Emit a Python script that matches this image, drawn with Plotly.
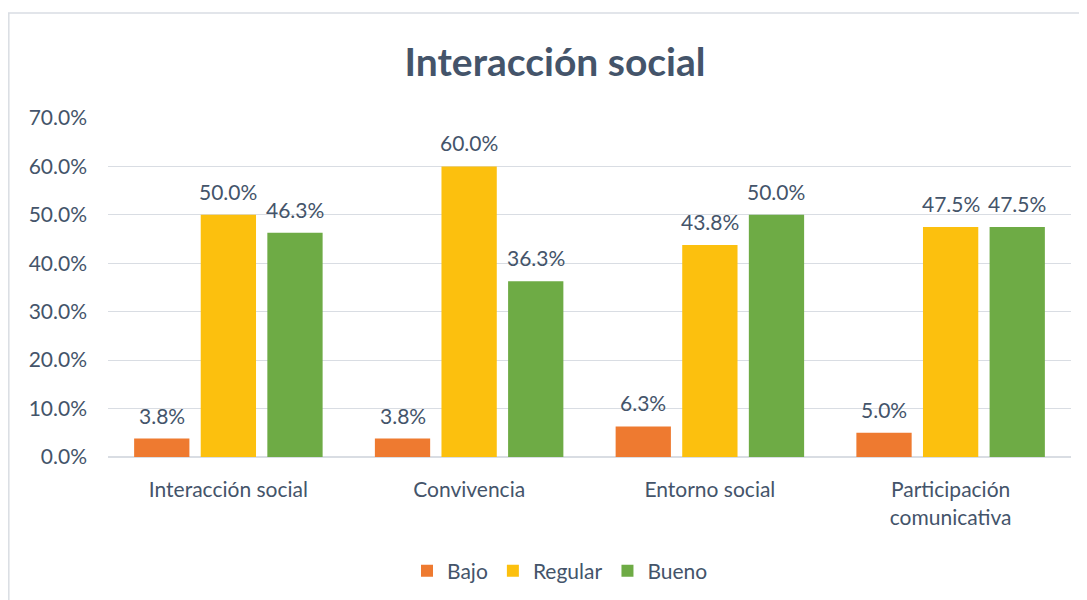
import plotly.graph_objects as go

categories = ["Interacción social", "Convivencia", "Entorno social", "Participación<br>comunicativa"]
bajo = [3.8, 3.8, 6.3, 5.0]
regular = [50.0, 60.0, 43.8, 47.5]
bueno = [46.3, 36.3, 50.0, 47.5]
series = [("Bajo", bajo, "#EE7A30"), ("Regular", regular, "#FCC00E"), ("Bueno", bueno, "#6EAB45")]
tick_vals = [0, 10, 20, 30, 40, 50, 60, 70]
tick_text = ["0.0%", "10.0%", "20.0%", "30.0%", "40.0%", "50.0%", "60.0%", "70.0%"]

txt = "#44546A"
FONT = "Lato, Open Sans, sans-serif"
W, H = 1079, 592
L, R, T, B = 100, 16, 110, 143
plot_w = W - L - R
slot = plot_w / len(categories)
bargap = 0.17
pitch = slot * (1 - bargap) / 3

fig = go.Figure()
for i, (name, vals, col) in enumerate(series):
    fig.add_trace(go.Bar(
        x=categories, y=vals, name=name, marker=dict(color=col, line=dict(width=0)),
    ))
    for c, v in zip(categories, vals):
        fig.add_annotation(x=c, y=v, xref="x", yref="y", text=f"{v:.1f}%", showarrow=False,
                           yanchor="bottom", xshift=(i - 1) * pitch, yshift=9,
                           font=dict(size=21, color=txt, family=FONT))

fig.update_layout(
    width=W, height=H,
    margin=dict(l=L, r=R, t=T, b=B, autoexpand=False),
    paper_bgcolor="white", plot_bgcolor="white",
    font=dict(family=FONT, color=txt, size=21),
    title=dict(text="<b>Interacción social</b>", x=(555 - 8) / W, xanchor="center",
               y=1 - (62 - 8) / H, yanchor="middle",
               font=dict(size=39, color=txt, family=FONT)),
    barmode="group", bargap=bargap, bargroupgap=0.17,
    yaxis=dict(range=[0, 70], tickvals=tick_vals, ticktext=tick_text, gridcolor="#D9DDE3",
               gridwidth=1, zeroline=True, zerolinecolor="#D9DDE3", ticks="", ticklabelstandoff=20,
               tickfont=dict(size=21, color=txt), automargin=False),
    xaxis=dict(showline=True, linecolor="#D9DDE3", tickfont=dict(size=21, color=txt), ticks="",
               ticklabelstandoff=14, automargin=False),
    legend=dict(orientation="h", xref="container", x=(560 - 8) / W, xanchor="center",
                yref="container", y=1 - (571 - 8) / H, yanchor="middle",
                font=dict(size=21, color=txt), traceorder="normal"),
    showlegend=True,
)
fig.add_shape(type="line", xref="paper", yref="paper", x0=-L / plot_w, x1=(W - L) / plot_w,
              y0=1.31, y1=1.31, line=dict(color="#D9DDE3", width=1.5))
fig.add_shape(type="line", xref="paper", yref="paper", x0=-0.103, x1=-0.103,
              y0=-0.45, y1=1.31, line=dict(color="#D9DDE3", width=1.5))
fig.write_html("out.html")
